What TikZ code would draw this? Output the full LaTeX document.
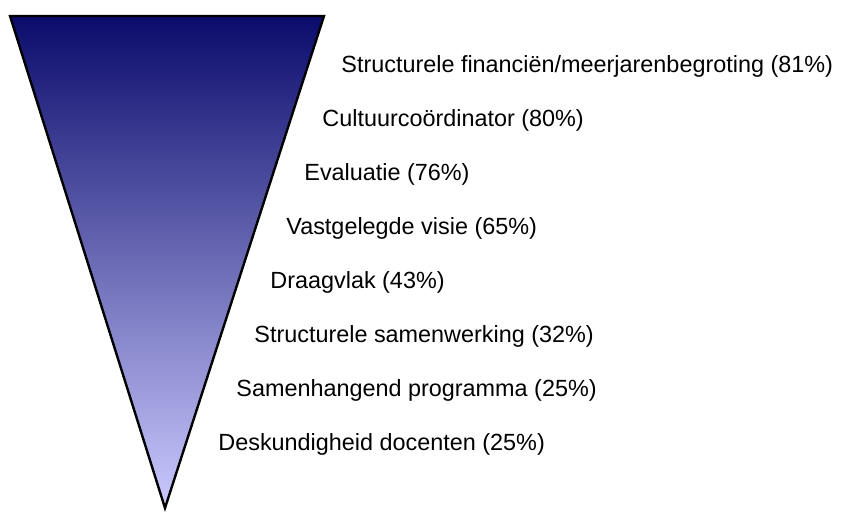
\documentclass[tikz,border=0pt]{standalone}
\usepackage{fontspec}
\setmainfont{Liberation Sans}
\tikzset{
  funnel/.style={draw=black, line width=1.2pt, top color=funneltop, bottom color=funnelbottom, line join=miter},
  factor/.style={anchor=west, inner sep=0pt, font=\fontsize{11.7}{13}\selectfont}
}
\definecolor{funneltop}{HTML}{0B0B6C}
\definecolor{funnelbottom}{HTML}{CACAFF}
\begin{document}
\begin{tikzpicture}[x=0.5pt,y=-0.5pt]
\useasboundingbox (0,0) rectangle (843,513);
\coordinate (tl) at (10,16);
\coordinate (tr) at (324,16);
\coordinate (tip) at (165,508);
\path[funnel] (tl) -- (tr) -- (tip) -- cycle;
\node[factor] (f1) at (341,66) {Structurele financiën/meerjarenbegroting (81\%)};
\node[factor] (f2) at (322,120) {Cultuurcoördinator (80\%)};
\node[factor] (f3) at (304,174) {Evaluatie (76\%)};
\node[factor] (f4) at (286,228) {Vastgelegde visie (65\%)};
\node[factor] (f5) at (270,282) {Draagvlak (43\%)};
\node[factor] (f6) at (254,336) {Structurele samenwerking (32\%)};
\node[factor] (f7) at (236,390) {Samenhangend programma (25\%)};
\node[factor] (f8) at (218,444) {Deskundigheid docenten (25\%)};
\end{tikzpicture}
\end{document}
